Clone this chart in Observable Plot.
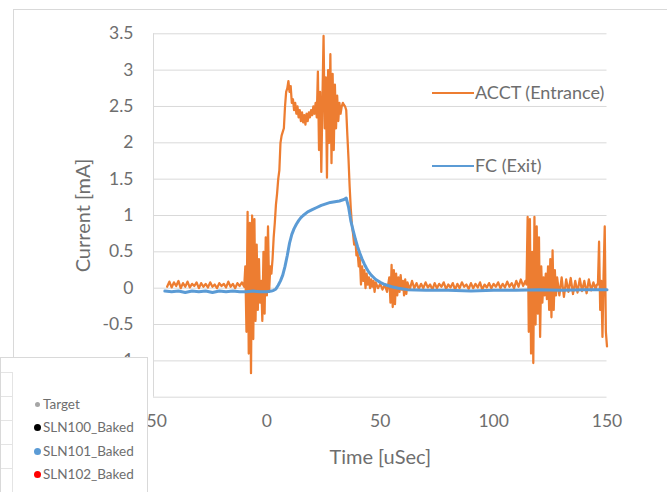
<!DOCTYPE html>
<html><head><meta charset="utf-8">
<script src="https://cdn.jsdelivr.net/npm/d3@7"></script>
<script src="https://cdn.jsdelivr.net/npm/@observablehq/plot@0.6"></script>
<style>
html,body{margin:0;padding:0;background:#fff;}
#wrap{position:relative;width:667px;height:492px;overflow:hidden;font-family:Lato,"Open Sans",sans-serif;color:#6e6e6e;}
#wrap svg{position:absolute;left:0;top:0;}
.frameTop{position:absolute;left:13px;top:9px;width:660px;height:0;border-top:1px solid #d9d9d9;}
.frameLeft{position:absolute;left:13px;top:9px;width:0;height:350px;border-left:1px solid #d9d9d9;}
.leg{position:absolute;font-size:18px;color:#6e6e6e;white-space:nowrap;line-height:18px;}
.leg .sw{display:inline-block;width:42px;height:0;border-top:2.5px solid;vertical-align:middle;margin-right:1px;position:relative;top:-1px;}
#box{position:absolute;left:0;top:357px;width:146px;height:140px;background:#fff;border:1px solid #d9d9d9;}
.bl{position:absolute;left:33px;font-size:13.5px;color:#6e6e6e;white-space:nowrap;line-height:15px;}
.bl i{display:inline-block;width:7px;height:7px;border-radius:50%;margin-right:2px;vertical-align:middle;position:relative;top:-1px;}
.frag{position:absolute;background:#e4e4e4;}
</style></head><body><div id="wrap"></div>
<script>
// ACCT (Entrance) current [mA] vs time [uSec]
const acctPre = [[-44,0.02],[-43,0.09],[-42,0.01],[-41,0.08],[-40,0.03],[-39,0.1],[-38,0.0],[-37,0.07],[-36,0.02],[-35,0.09],[-34,0.01],[-33,0.06],[-32,0.03],[-31,0.08],[-30,0.0],[-29,0.07],[-28,0.02],[-27,0.06],[-26,0.01],[-25,0.08],[-24,0.02],[-23,0.05],[-22,0.0],[-21,0.07],[-20,0.03],[-19,0.06],[-18,0.01],[-17,0.09],[-16,0.02],[-15,0.06],[-14,0.0],[-13,0.07],[-12,0.03],[-11,0.08],[-10,0.02]];
const acctBurst1 = [[-9.5,0.3],[-9,-0.6],[-8.5,1.05],[-8,-0.9],[-7.5,0.9],[-7,-1.17],[-6.5,1.0],[-6,-0.7],[-5.5,0.95],[-5,-0.45],[-4.5,0.6],[-4,-0.3],[-3.5,0.4],[-3,-0.2],[-2.5,0.1],[-2,-0.45],[-1.5,0.5],[-1,-0.35],[-0.5,0.7],[0,-0.1],[0.5,0.85],[1,-0.05],[1.5,0.3],[2,0.2]];
const acctPulse = [[2.5,0.4],[3,0.7],[3.5,0.9],[4,1.15],[4.5,1.3],[5,1.5],[5.5,1.62],[6,2.0],[6.5,2.1],[7,2.15],[7.5,2.2],[8,2.5],[8.5,2.7],[9,2.75],[9.5,2.85],[10,2.7],[10.5,2.78],[11,2.55],[11.5,2.6],[12,2.45],[12.5,2.55],[13,2.4],[13.5,2.5],[14,2.35],[14.5,2.45],[15,2.3],[15.5,2.42],[16,2.28],[16.5,2.38],[17,2.25],[17.5,2.4],[18,2.3],[18.5,2.42],[19,2.35],[19.5,2.45],[20,2.38],[20.5,2.5],[21,2.4],[21.5,2.55],[22,2.35],[22.5,2.98],[23,1.9],[23.5,2.7],[24,1.6],[24.5,2.6],[25,3.47],[25.5,2.2],[26,2.9],[26.5,1.52],[27,3.0],[27.5,2.0],[28,3.22],[28.5,1.72],[29,2.95],[29.5,1.9],[30,2.8],[30.5,2.2],[31,2.65],[31.5,2.3],[32,2.55],[32.5,2.4],[33,2.5],[33.5,2.55],[34,2.52],[34.5,2.5],[35,2.45]];
const acctFall = [[35.5,2.1],[36,1.78],[36.5,1.4],[37,1.1],[37.5,0.87],[38,0.75],[38.5,0.6],[39,0.68],[39.5,0.45],[40,0.5],[40.5,0.3],[41,0.42],[41.5,0.05],[42,0.3],[42.5,0.1],[43,0.25],[43.5,0.0],[44,0.2],[44.5,0.05],[45,0.15],[45.5,0.0],[46,0.12],[46.5,0.02],[47,0.1],[47.5,-0.05],[48,0.08],[49,0.0],[50,0.06],[51,-0.02],[52,0.05],[53,-0.05],[54,0.15],[54.5,-0.2],[55,0.32],[55.5,-0.26],[56,0.25],[56.5,-0.22],[57,0.2],[57.5,-0.1],[58,0.15],[58.5,-0.05],[59,0.18],[59.5,-0.02],[60,0.1],[60.5,-0.1],[61,0.12],[61.5,-0.08],[62,0.08],[63,-0.02],[64,0.1],[65,0.0]];
const acctQuiet = [[66,0.07],[67,-0.01],[68,0.06],[69,0.0],[70,0.08],[71,0.01],[72,0.05],[73,-0.02],[74,0.07],[75,0.0],[76,0.06],[77,0.02],[78,0.08],[79,-0.01],[80,0.05],[81,0.01],[82,0.07],[83,-0.02],[84,0.06],[85,0.0],[86,0.08],[87,0.02],[88,0.05],[89,-0.01],[90,0.07],[91,0.0],[92,0.06],[93,0.01],[94,0.08],[95,-0.02],[96,0.05],[97,0.01],[98,0.07],[99,0.0],[100,0.06],[101,0.02],[102,0.08],[103,0.0],[104,0.06],[105,0.01],[106,0.09],[107,0.02],[108,0.07],[109,0.0],[110,0.1],[111,0.02],[112,0.12],[113,0.03],[114,0.1]];
const acctBurst2 = [[114.5,0.05],[115,0.98],[115.5,-0.6],[116,0.95],[116.5,-0.9],[117,0.5],[117.5,-1.03],[118,0.98],[118.5,-0.5],[119,0.85],[119.5,-0.35],[120,0.7],[120.5,-0.67],[121,0.3],[121.5,-0.2],[122,0.15],[122.5,-0.1],[123,0.2],[123.5,-0.15],[124,0.3],[124.5,-0.3],[125,0.4],[125.5,-0.4],[126,0.52],[126.5,-0.3],[127,0.25],[127.5,-0.1],[128,0.15]];
const acctTail = [[129,-0.1],[130,0.15],[131,-0.12],[132,0.12],[133,-0.05],[134,0.14],[135,-0.08],[136,0.1],[137,-0.06],[138,0.13],[139,-0.04],[140,0.1],[141,-0.07],[142,0.12],[143,-0.03],[144,0.08],[145,-0.02],[145.5,0.05],[146,0.05],[146.5,0.64],[147,-0.3],[147.5,0.1],[148,-0.67],[148.5,0.2],[149,0.85],[149.5,-0.6],[150,-0.8]];

// FC (Exit) current [mA] vs time [uSec]
const fcPoints = [[-45,-0.04],[-42,-0.05],[-39,-0.04],[-36,-0.06],[-33,-0.04],[-30,-0.05],[-27,-0.04],[-24,-0.06],[-21,-0.04],[-18,-0.05],[-15,-0.04],[-12,-0.05],[-9,-0.05],[-6,-0.04],[-3,-0.05],[0,-0.05],[2,-0.04],[3,-0.03],[4,-0.01],[5,0.04],[6,0.1],[7,0.18],[8,0.3],[9,0.45],[10,0.62],[11,0.74],[12,0.82],[13,0.88],[14,0.93],[15,0.97],[16,1.0],[18,1.05],[20,1.08],[22,1.11],[24,1.14],[26,1.16],[28,1.18],[30,1.19],[32,1.2],[34,1.22],[35,1.24],[36,1.12],[37,0.93],[38,0.8],[39,0.68],[40,0.57],[41,0.48],[42,0.4],[43,0.33],[44,0.27],[45,0.22],[46,0.18],[47,0.15],[48,0.12],[50,0.08],[52,0.05],[55,0.02],[58,0.0],[62,-0.02],[70,-0.03],[80,-0.03],[90,-0.04],[100,-0.03],[110,-0.03],[120,-0.02],[130,-0.03],[140,-0.02],[150,-0.02]];

const yTicks = [-1.5,-1,-0.5,0,0.5,1,1.5,2,2.5,3,3.5];
const xTicks = [-50,0,50,100,150];
const seriesNames = ["ACCT (Entrance)","FC (Exit)"];
const seriesColors = ["#ED7D31","#5B9BD5"];
const otherLegend = [["Target","#a6a6a6"],["SLN100_Baked","#000000"],["SLN101_Baked","#5B9BD5"],["SLN102_Baked","#FF0000"]];

const toRows = arr => arr.map(([t,v]) => ({t, v}));
const acct = toRows([...acctPre,...acctBurst1,...acctPulse,...acctFall,...acctQuiet,...acctBurst2,...acctTail]);
const fc = toRows(fcPoints);
const txt = "#6e6e6e";

const chart = Plot.plot({
  width: 667, height: 492,
  marginLeft: 153, marginRight: 60.5, marginTop: 33.3, marginBottom: 95.3,
  x: {domain: [-50,150]},
  y: {domain: [-1.5,3.5]},
  style: {fontFamily: "Lato, 'Open Sans', sans-serif", color: txt, background: "transparent"},
  marks: [
    Plot.gridY(yTicks, {stroke: "#d9d9d9", strokeOpacity: 1, strokeWidth: 1}),
    Plot.ruleX([-50], {stroke: "#d9d9d9", strokeWidth: 1}),
    Plot.axisY(yTicks, {tickSize: 0, tickPadding: 20, fontSize: 17.5, tickFormat: d => String(d), label: null, fill: txt}),
    Plot.axisX(xTicks, {tickSize: 0, tickPadding: 17, fontSize: 17.5, tickFormat: d => String(d), label: null, fill: txt}),
    Plot.text(["Current [mA]"], {text: d => d, frameAnchor: "left", dx: -70, rotate: -90, textAnchor: "middle", lineAnchor: "middle", fontSize: 20, fill: txt}),
    Plot.text(["Time [uSec]"], {text: d => d, frameAnchor: "bottom", dy: 60, textAnchor: "middle", lineAnchor: "middle", fontSize: 20, fill: txt}),
    Plot.line(acct, {x: "t", y: "v", stroke: seriesColors[0], strokeWidth: 2.25}),
    Plot.line(fc, {x: "t", y: "v", stroke: seriesColors[1], strokeWidth: 3})
  ]
});

const wrap = document.getElementById("wrap");
const ft = document.createElement("div"); ft.className = "frameTop"; wrap.appendChild(ft);
const fl = document.createElement("div"); fl.className = "frameLeft"; wrap.appendChild(fl);
wrap.appendChild(chart);

const legTops = [83, 156];
seriesNames.forEach((name, i) => {
  const d = document.createElement("div");
  d.className = "leg";
  d.style.left = "432px";
  d.style.top = legTops[i] + "px";
  d.innerHTML = `<span class="sw" style="border-color:${seriesColors[i]}"></span>${name}`;
  wrap.appendChild(d);
});

const box = document.createElement("div"); box.id = "box"; wrap.appendChild(box);
// fragment of neighbouring chart inside the legend box
[[11,14,1,140],[0,14,11,1],[0,38,11,1],[0,62,11,1],[0,86,11,1],[0,110,11,1]].forEach(([l,t,w,h]) => {
  const f = document.createElement("div"); f.className = "frag";
  f.style.left = l + "px"; f.style.top = t + "px"; f.style.width = w + "px"; f.style.height = h + "px";
  box.appendChild(f);
});
const blTops = [39, 62, 86, 109];
otherLegend.forEach(([name, col], i) => {
  const d = document.createElement("div");
  d.className = "bl";
  d.style.top = blTops[i] + "px";
  const sz = i === 0 ? "width:5px;height:5px;margin-left:1px;margin-right:3px;" : "";
  d.innerHTML = `<i style="background:${col};${sz}"></i>${name}`;
  box.appendChild(d);
});
</script>
</body></html>
